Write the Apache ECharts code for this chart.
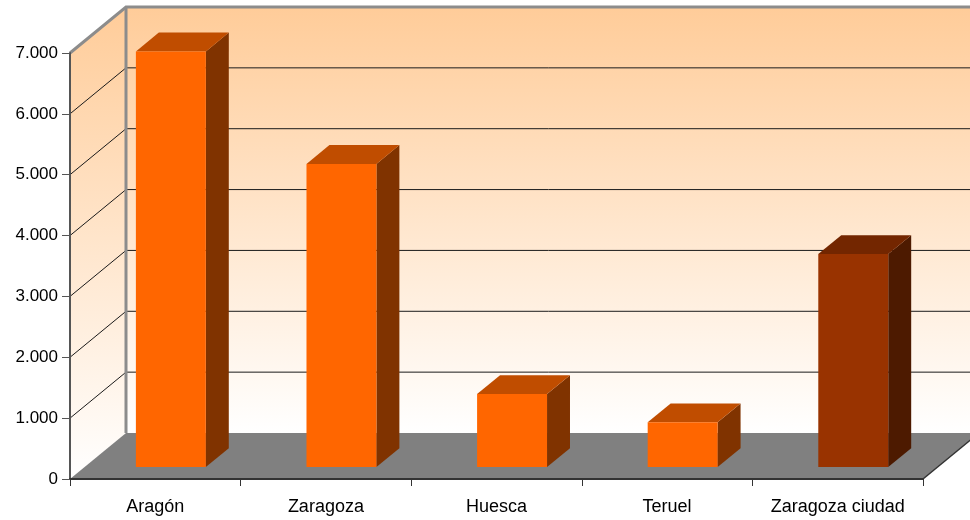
<!DOCTYPE html>
<html>
<head>
<meta charset="utf-8">
<script src="https://cdn.jsdelivr.net/npm/echarts@6/dist/echarts.min.js"></script>
<style>
html,body{margin:0;padding:0;background:#fff;}
#chart{width:970px;height:520px;}
</style>
</head>
<body>
<div id="chart"></div>
<script>
// ---- data ----
const categories = ['Aragón', 'Zaragoza', 'Huesca', 'Teruel', 'Zaragoza ciudad'];
const values = [6830, 4980, 1200, 735, 3500];
const yTicks = [0, 1000, 2000, 3000, 4000, 5000, 6000, 7000];

// ---- 3D projection / style constants ----
const DX = 56, DY = 46;          // depth offset of back wall
const BAR_FRONT = 0.26;          // depth fraction of bar front face
const BAR_DEPTH = 0.41;          // depth fraction of bar thickness
const BAR_WIDTH = 0.41;          // bar width / band width
const palette = {
  normal: {front: '#FF6600', top: '#C04D00', side: '#803300'},
  city:   {front: '#993300', top: '#732600', side: '#4D1A00'}
};
const FONT = '"Liberation Sans", Arial, sans-serif';

const yMin = yTicks[0], yMax = yTicks[yTicks.length - 1];
const chart = echarts.init(document.getElementById('chart'), null, {renderer: 'canvas'});

function fmt(v) {
  return String(v).replace(/\B(?=(\d{3})+(?!\d))/g, '.');
}

const option = {
  animation: false,
  backgroundColor: '#ffffff',
  grid: {left: 70, right: 47, top: 53, bottom: 41, containLabel: false},
  xAxis: {
    type: 'category',
    data: categories,
    z: 10,
    axisLine: {show: true, lineStyle: {color: '#333333', width: 2}},
    axisTick: {show: true, interval: 0, alignWithLabel: false, length: 7, lineStyle: {color: '#333333', width: 1}},
    axisLabel: {color: '#000', interval: 0, hideOverlap: false, fontSize: 18, fontFamily: FONT, margin: 19},
    splitLine: {show: false}
  },
  yAxis: {
    type: 'value',
    min: yMin, max: yMax, interval: 1000,
    z: 10,
    axisLine: {show: true, lineStyle: {color: '#555555', width: 2}},
    axisTick: {show: true, length: 8, lineStyle: {color: '#555555', width: 1}},
    axisLabel: {color: '#000', fontSize: 17, fontFamily: FONT, margin: 12, formatter: fmt},
    splitLine: {show: false}
  },
  series: [
    {
      // walls, floor and gridlines
      type: 'custom',
      z: 0,
      clip: false,
      silent: true,
      data: [[0, 0]],
      renderItem: function (params, api) {
        const cs = params.coordSys;
        const xL = cs.x, xR = cs.x + cs.width;
        const y0 = api.coord([0, yMin])[1];
        const yT = api.coord([0, yMax])[1];
        const grad = {
          type: 'linear', global: true, x: 0, y: yT - DY, x2: 0, y2: y0 - DY,
          colorStops: [{offset: 0, color: '#FFCC99'}, {offset: 1, color: '#FFFFFF'}]
        };
        const gradSide = {
          type: 'linear', global: true, x: 0, y: yT - DY, x2: 0, y2: y0,
          colorStops: [{offset: 0, color: '#FFCC99'}, {offset: 1, color: '#FFFFFF'}]
        };
        const ch = [];
        ch.push({type: 'polygon', shape: {points: [[xL, y0], [xL, yT], [xL + DX, yT - DY], [xL + DX, y0 - DY]]}, style: {fill: gradSide}});
        ch.push({type: 'polygon', shape: {points: [[xL + DX, yT - DY], [xR + DX, yT - DY], [xR + DX, y0 - DY], [xL + DX, y0 - DY]]}, style: {fill: grad}});
        ch.push({type: 'polygon', shape: {points: [[xL, y0], [xR, y0], [xR + DX, y0 - DY], [xL + DX, y0 - DY]]}, style: {fill: '#808080'}});
        yTicks.forEach(function (t) {
          if (t === yMin || t === yMax) return;
          const y = api.coord([0, t])[1];
          ch.push({type: 'polyline', shape: {points: [[xL, y], [xL + DX, y - DY], [xR + DX, y - DY]]}, style: {stroke: '#1a1a1a', lineWidth: 1, fill: null}});
        });
        ch.push({type: 'polyline', shape: {points: [[xL, yT], [xL + DX, yT - DY], [xR + DX, yT - DY]]}, style: {stroke: '#8c8c8c', lineWidth: 3, fill: null}});
        ch.push({type: 'line', shape: {x1: xL + DX, y1: yT - DY, x2: xL + DX, y2: y0 - DY}, style: {stroke: '#8c8c8c', lineWidth: 3}});
        ch.push({type: 'line', shape: {x1: xR, y1: y0, x2: xR + DX, y2: y0 - DY}, style: {stroke: '#333333', lineWidth: 1.5}});
        return {type: 'group', children: ch};
      }
    },
    {
      type: 'custom',
      z: 5,
      clip: false,
      data: values.map(function (v, i) { return [i, v]; }),
      encode: {x: 0, y: 1},
      renderItem: function (params, api) {
        const i = api.value(0), v = api.value(1);
        const base = api.coord([i, 0]);
        const top = api.coord([i, v]);
        const bw = api.size([1, 0])[0];
        const w = bw * BAR_WIDTH;
        const cx = base[0] + BAR_FRONT * DX + 1;
        const yb = base[1] - BAR_FRONT * DY;
        const yt = top[1] - BAR_FRONT * DY;
        const x1 = cx - w / 2, x2 = cx + w / 2;
        const ddx = BAR_DEPTH * DX, ddy = BAR_DEPTH * DY;
        const c = categories[i] === 'Zaragoza ciudad' ? palette.city : palette.normal;
        return {
          type: 'group',
          children: [
            {type: 'polygon', shape: {points: [[x2, yt], [x2 + ddx, yt - ddy], [x2 + ddx, yb - ddy], [x2, yb]]}, style: {fill: c.side}},
            {type: 'polygon', shape: {points: [[x1, yt], [x2, yt], [x2 + ddx, yt - ddy], [x1 + ddx, yt - ddy]]}, style: {fill: c.top}},
            {type: 'rect', shape: {x: x1, y: yt, width: w, height: yb - yt}, style: {fill: c.front}}
          ]
        };
      }
    }
  ]
};
chart.setOption(option);
</script>
</body>
</html>
